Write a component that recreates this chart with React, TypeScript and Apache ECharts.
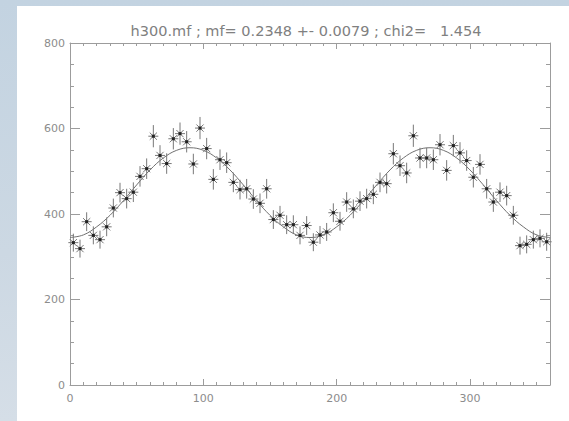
import React, { useEffect, useRef } from "react";
import * as echarts from "echarts";

const TITLE = "h300.mf ; mf= 0.2348 +- 0.0079 ; chi2=   1.454";

const phase = [
  2.5, 7.5, 12.5, 17.5, 22.5, 27.5, 32.5, 37.5, 42.5, 47.5,
  52.5, 57.5, 62.5, 67.5, 72.5, 77.5, 82.5, 87.5, 92.5, 97.5,
  102.5, 107.5, 112.5, 117.5, 122.5, 127.5, 132.5, 137.5, 142.5, 147.5,
  152.5, 157.5, 162.5, 167.5, 172.5, 177.5, 182.5, 187.5, 192.5, 197.5,
  202.5, 207.5, 212.5, 217.5, 222.5, 227.5, 232.5, 237.5, 242.5, 247.5,
  252.5, 257.5, 262.5, 267.5, 272.5, 277.5, 282.5, 287.5, 292.5, 297.5,
  302.5, 307.5, 312.5, 317.5, 322.5, 327.5, 332.5, 337.5, 342.5, 347.5,
  352.5, 357.5,
];

const counts = [
  333, 319, 382, 350, 340, 370, 414, 450, 436, 451,
  488, 506, 582, 537, 518, 576, 588, 569, 517, 601,
  553, 481, 527, 520, 474, 457, 459, 435, 425, 459,
  387, 397, 375, 375, 350, 373, 334, 351, 358, 403,
  383, 428, 412, 430, 436, 446, 474, 471, 541, 513,
  496, 583, 531, 531, 527, 562, 502, 560, 543, 525,
  486, 516, 459, 428, 451, 443, 397, 326, 329, 340,
  343, 335,
];

const errors = [
  21, 21, 22, 21, 21, 22, 22, 23, 23, 23,
  24, 24, 26, 24, 24, 25, 26, 25, 24, 26,
  25, 24, 24, 24, 23, 23, 23, 23, 23, 23,
  22, 22, 22, 22, 21, 22, 21, 21, 21, 22,
  22, 23, 22, 23, 23, 23, 23, 23, 25, 24,
  24, 26, 24, 24, 24, 25, 24, 25, 25, 24,
  24, 24, 23, 23, 23, 23, 22, 21, 21, 21,
  21, 21,
];

const fitPhase = [
  0, 10, 20, 30, 40, 50, 60, 70, 80, 90,
  100, 110, 120, 130, 140, 150, 160, 170, 180,
  190, 200, 210, 220, 230, 240, 250, 260, 270,
  280, 290, 300, 310, 320, 330, 340, 350, 360,
];
const fitValues = [
  345, 351, 370, 397, 431, 468, 503, 531, 549, 555,
  549, 531, 503, 468, 431, 397, 370, 351, 345,
  351, 370, 397, 431, 468, 503, 531, 549, 555,
  549, 531, 503, 468, 431, 397, 370, 351, 345,
];

const X_MIN = 0, X_MAX = 360, X_MAJOR = 100, X_MINOR = 10;
const Y_MIN = 0, Y_MAX = 800, Y_MAJOR = 200;

const AXIS_COLOR = "#9c9c9c";
const LABEL_COLOR = "#8c8c8c";
const FONT = "DejaVu Sans, Verdana, sans-serif";

export default function App() {
  const ref = useRef<HTMLDivElement>(null);
  useEffect(() => {
    document.body.style.margin = "0";
    if (!ref.current) return;
    const chart = echarts.init(ref.current, null, { renderer: "svg" });

    const xBase = (pos: string, major: boolean, label: boolean) => ({
      type: "value",
      position: pos,
      min: X_MIN,
      max: X_MAX,
      interval: major ? X_MAJOR : X_MINOR,
      axisLine: { show: major, onZero: false, lineStyle: { color: AXIS_COLOR, width: 1 } },
      axisTick: { show: true, inside: true, length: major ? 6 : 3, lineStyle: { color: AXIS_COLOR } },
      axisLabel: {
        show: label,
        color: LABEL_COLOR,
        fontSize: 11,
        fontFamily: FONT,
        margin: 8,
        showMaxLabel: false,
      },
      splitLine: { show: false },
    });
    const yBase = (pos: string, label: boolean) => ({
      type: "value",
      position: pos,
      min: Y_MIN,
      max: Y_MAX,
      interval: Y_MAJOR,
      axisLine: { show: true, onZero: false, lineStyle: { color: AXIS_COLOR, width: 1 } },
      axisTick: { show: true, inside: true, length: 10, lineStyle: { color: AXIS_COLOR } },
      minorTick: { show: true, splitNumber: 4, length: 4, lineStyle: { color: AXIS_COLOR } },
      axisLabel: { show: label, color: LABEL_COLOR, fontSize: 11, fontFamily: FONT, margin: 5 },
      splitLine: { show: false },
      minorSplitLine: { show: false },
    });

    const pts = phase.map((p, i) => [p, counts[i], errors[i]]);
    const fit = fitPhase.map((p, i) => [p, fitValues[i]]);

    chart.setOption({
      animation: false,
      backgroundColor: "transparent",
      textStyle: { fontFamily: FONT },
      grid: { left: 70, top: 43, width: 480, height: 342, containLabel: false, outerBoundsMode: "none" },
      graphic: [
        {
          type: "text",
          x: 306,
          y: 31,
          style: {
            text: TITLE,
            fill: "#808080",
            fontSize: 14.5,
            fontFamily: FONT,
            textAlign: "center",
            textVerticalAlign: "middle",
          },
        },
      ],
      xAxis: [
        xBase("bottom", true, true),
        xBase("bottom", false, false),
        xBase("top", true, false),
        xBase("top", false, false),
      ],
      yAxis: [yBase("left", true), yBase("right", false)],
      series: [
        {
          type: "line",
          data: fit,
          xAxisIndex: 0,
          yAxisIndex: 0,
          showSymbol: false,
          smooth: 0.4,
          lineStyle: { color: "#707070", width: 1 },
          z: 2,
        },
        {
          type: "custom",
          xAxisIndex: 0,
          yAxisIndex: 0,
          data: pts,
          encode: { x: 0, y: 1 },
          z: 3,
          renderItem: (params: any, api: any) => {
            const x = api.value(0), y = api.value(1), e = api.value(2);
            const c = api.coord([x, y]);
            const t = api.coord([x, y + e]);
            const b = api.coord([x, y - e]);
            const r = 5, d = 3.6;
            const st = { stroke: "#787878", lineWidth: 1 };
            return {
              type: "group",
              children: [
                { type: "line", shape: { x1: c[0], y1: t[1], x2: c[0], y2: b[1] }, style: st },
                { type: "line", shape: { x1: c[0] - r, y1: c[1], x2: c[0] + r, y2: c[1] }, style: st },
                { type: "line", shape: { x1: c[0] - d, y1: c[1] - d, x2: c[0] + d, y2: c[1] + d }, style: st },
                { type: "line", shape: { x1: c[0] - d, y1: c[1] + d, x2: c[0] + d, y2: c[1] - d }, style: st },
                { type: "rect", shape: { x: c[0] - 1.5, y: c[1] - 1.5, width: 3, height: 3 }, style: { fill: "#222222" } },
              ],
            };
          },
        },
      ],
    });
    return () => chart.dispose();
  }, []);

  return (
    <div
      style={{
        position: "absolute",
        left: 0,
        top: 0,
        width: 569,
        height: 421,
        background: "linear-gradient(180deg, #c3d3e1 0%, #ccd8e3 60%, #d5dee7 100%)",
        overflow: "hidden",
      }}
    >
      <div style={{ position: "absolute", left: 17, top: 6, width: 552, height: 415, background: "#ffffff" }} />
      <div ref={ref} style={{ position: "absolute", left: 0, top: 0, width: 569, height: 421 }} />
    </div>
  );
}
